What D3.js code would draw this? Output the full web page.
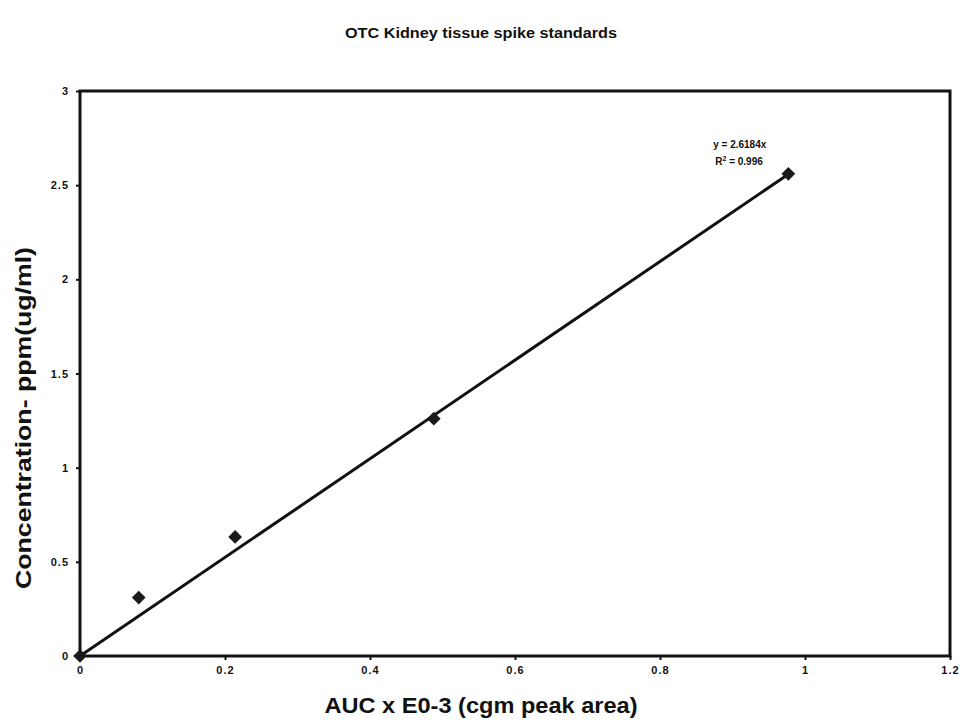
<!DOCTYPE html>
<html>
<head>
<meta charset="utf-8">
<script src="https://cdn.jsdelivr.net/npm/d3@7"></script>
<style>
  body { margin: 0; background: #fff; }
  text { font-family: "Liberation Sans", Arial, sans-serif; font-weight: bold; fill: #111; }
</style>
</head>
<body>
<div id="chart"></div>
<script>
// values
var aucValues = [0, 0.081, 0.214, 0.488, 0.977];
var concValues = [0, 0.31, 0.632, 1.26, 2.56];
var slope = 2.6184;
var rSquared = "0.996";
var xTicks = [0, 0.2, 0.4, 0.6, 0.8, 1, 1.2];
var yTicks = [0, 0.5, 1, 1.5, 2, 2.5, 3];

var W = 962, H = 724;
var margin = {top: 91, right: 12, bottom: 68, left: 80},
  width = W - margin.left - margin.right,
  height = H - margin.top - margin.bottom;

var svg = d3.select("#chart")
.append("svg")
  .attr("width", W)
  .attr("height", H);

var g = svg.append("g")
  .attr("transform", "translate(" + margin.left + "," + margin.top + ")");

var x = d3.scaleLinear().domain([0, 1.2]).range([0, width]);
var y = d3.scaleLinear().domain([0, 3]).range([height, 0]);

// title
svg.append("text")
  .attr("x", 481).attr("y", 38)
  .attr("text-anchor", "middle")
  .attr("textLength", 272)
  .attr("lengthAdjust", "spacingAndGlyphs")
  .style("font-size", "14px")
  .text("OTC Kidney tissue spike standards");

// plot frame
g.append("rect")
  .attr("x", 0).attr("y", 0)
  .attr("width", width).attr("height", height)
  .attr("fill", "none")
  .attr("stroke", "#111")
  .attr("stroke-width", 3);

// axes
var xAxis = g.append("g")
  .attr("transform", "translate(0," + height + ")")
  .call(d3.axisBottom(x).tickValues(xTicks).tickSize(4).tickPadding(6)
    .tickFormat(function(d) { return d; }));
var yAxis = g.append("g")
  .call(d3.axisLeft(y).tickValues(yTicks).tickSize(4).tickPadding(7)
    .tickFormat(function(d) { return d; }));
[xAxis, yAxis].forEach(function(a) {
  a.select(".domain").remove();
  a.selectAll(".tick line").attr("stroke", "#111").attr("stroke-width", 2);
  a.selectAll(".tick text").style("font-size", "11px").style("font-family", "Liberation Sans, Arial, sans-serif")
    .style("font-weight", "bold").style("letter-spacing", "1px");
});

// axis titles
svg.append("text")
  .attr("x", 481).attr("y", 713)
  .attr("text-anchor", "middle")
  .attr("textLength", 313)
  .attr("lengthAdjust", "spacingAndGlyphs")
  .style("font-size", "22px")
  .text("AUC x E0-3 (cgm peak area)");
svg.append("text")
  .attr("transform", "translate(31,418) rotate(-90)")
  .attr("text-anchor", "middle")
  .attr("textLength", 342)
  .attr("lengthAdjust", "spacingAndGlyphs")
  .style("font-size", "22px")
  .text("Concentration- ppm(ug/ml)");

// linear trendline through origin
var xMax = d3.max(aucValues);
g.append("line")
  .attr("x1", x(0)).attr("y1", y(0))
  .attr("x2", x(xMax)).attr("y2", y(slope * xMax))
  .attr("stroke", "#111")
  .attr("stroke-width", 3);

// data points
g.selectAll(".pt")
  .data(aucValues)
  .enter()
  .append("path")
  .attr("class", "pt")
  .attr("d", d3.symbol().type(d3.symbolDiamond2).size(120))
  .attr("transform", function(d, i) { return "translate(" + x(d) + "," + y(concValues[i]) + ")"; })
  .attr("fill", "#1a1a1a");

// equation label
g.append("text")
  .attr("x", x(0.91)).attr("y", y(2.70))
  .attr("text-anchor", "middle")
  .style("font-size", "10px")
  .text("y = " + slope + "x");
var r2 = g.append("text")
  .attr("x", x(0.909)).attr("y", y(2.605))
  .attr("text-anchor", "middle")
  .style("font-size", "10px");
r2.append("tspan").text("R");
r2.append("tspan").attr("dy", -4).style("font-size", "7px").text("2");
r2.append("tspan").attr("dy", 4).text(" = " + rSquared);
</script>
</body>
</html>
